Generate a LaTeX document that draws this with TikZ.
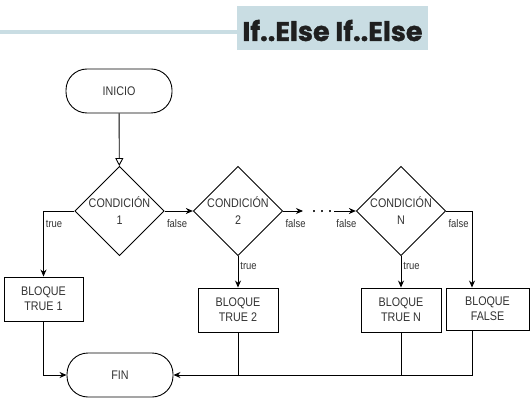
\documentclass[tikz,border=0pt]{standalone}
\usepackage{fontspec}
\setmainfont{Liberation Sans}[FakeStretch=0.86]
\newfontfamily\titlefont{Poppins}[BoldFeatures={FakeBold=1.2}]
\usetikzlibrary{shapes.geometric,arrows.meta}
\definecolor{titlebg}{HTML}{C9DDE3}
\definecolor{txtgray}{HTML}{333333}

\begin{document}
\begin{tikzpicture} [
    x=1pt, y=-1pt,
    block/.style    = { rectangle, draw, text centered, align=center, text=txtgray,
                        line width=0.9pt, minimum width=80pt, minimum height=44pt,
                        font=\fontsize{12.5}{15}\selectfont },
    term/.style     = { rectangle, rounded corners=21pt, draw, text=txtgray,
                        line width=0.9pt, minimum width=106pt, minimum height=44pt,
                        font=\fontsize{12.5}{15}\selectfont },
    decision/.style = { diamond, draw, align=center, inner sep=0pt, text=txtgray,
                        line width=0.9pt, minimum width=87pt, minimum height=87pt,
                        font=\fontsize{12.5}{17}\selectfont },
    lbl/.style      = { font=\fontsize{11}{13}\selectfont, text=txtgray, inner sep=2pt },
    line/.style     = { draw, line width=0.9pt, -{Stealth[length=7pt,width=6pt]} },
    link/.style     = { draw, line width=0.9pt },
  ]
  \useasboundingbox (0,0) rectangle (532,403);

  % title
  \node[fill=titlebg, minimum width=191pt, minimum height=44pt, inner ysep=0pt,
        text height=30pt, text depth=4pt, font=\titlefont\bfseries\fontsize{27}{30}\selectfont,
        text=black!88] (title) at (332.5,28) {If..Else If..Else};
  \coordinate (tl) at (0,32);
  \path [draw=titlebg, line width=4.5pt] (tl) -- (tl -| title.west);

  % Define nodes
  \node[term](inicio) at (119,91) {INICIO};
  \node[decision](cond1) at (119.5,211) {CONDICIÓN\\1};
  \node[decision](cond2) at (238,211) {CONDICIÓN\\2};
  \node[decision](condN) at (401,211) {CONDICIÓN\\N};
  \node[block, minimum width=79pt](true1) at (43.5,299) {BLOQUE\\TRUE 1};
  \node[block](true2) at (238,310) {BLOQUE\\TRUE 2};
  \node[block](trueN) at (401,310) {BLOQUE\\TRUE N};
  \node[block, minimum width=83pt, minimum height=42pt](bfalse) at (487.5,309) {BLOQUE\\FALSE};
  \node[term](fin) at (120,375) {FIN};
  \node[anchor=base, text=txtgray, inner sep=0pt](dots) at (321.5,212.5)
    {\rule{2pt}{2pt}\hspace{6pt}\rule{2pt}{2pt}\hspace{6pt}\rule{2pt}{2pt}};
  \coordinate (g1) at (303,211);
  \coordinate (g2) at (334,211);
  \coordinate (fx) at (472,211);

  % connect the nodes
  \path [draw, line width=0.9pt, -{Triangle[open,length=8pt,width=8pt]}] (inicio) -- (cond1);
  \path [line] (cond1.west) -| node[lbl, pos=0.6, anchor=west]{true} (true1);
  \path [line] (cond1.east) -- node[lbl, pos=0, anchor=north west, yshift=-6pt]{false} (cond2.west);
  \path [line] (cond2.south) -- node[lbl, pos=0.3, anchor=west]{true} (true2);
  \path [line] (cond2.east) -- node[lbl, pos=0, anchor=north west, yshift=-6pt]{false} (g1);
  \path [line] (g2) -- node[lbl, pos=0, anchor=north west, yshift=-6pt]{false} (condN.west);
  \path [line] (condN.south) -- node[lbl, pos=0.3, anchor=west]{true} (trueN);
  \path [line] (condN.east) -- node[lbl, pos=0, anchor=north west, yshift=-6pt]{false} (fx)
        -- (fx |- bfalse.north);
  \path [line] (true1) |- (fin.west);
  \path [line] (fx |- bfalse.south) |- (fin.east);
  \path [link] (true2) -- (true2 |- fin.east);
  \path [link] (trueN) -- (trueN |- fin.east);
\end{tikzpicture}
\end{document}
